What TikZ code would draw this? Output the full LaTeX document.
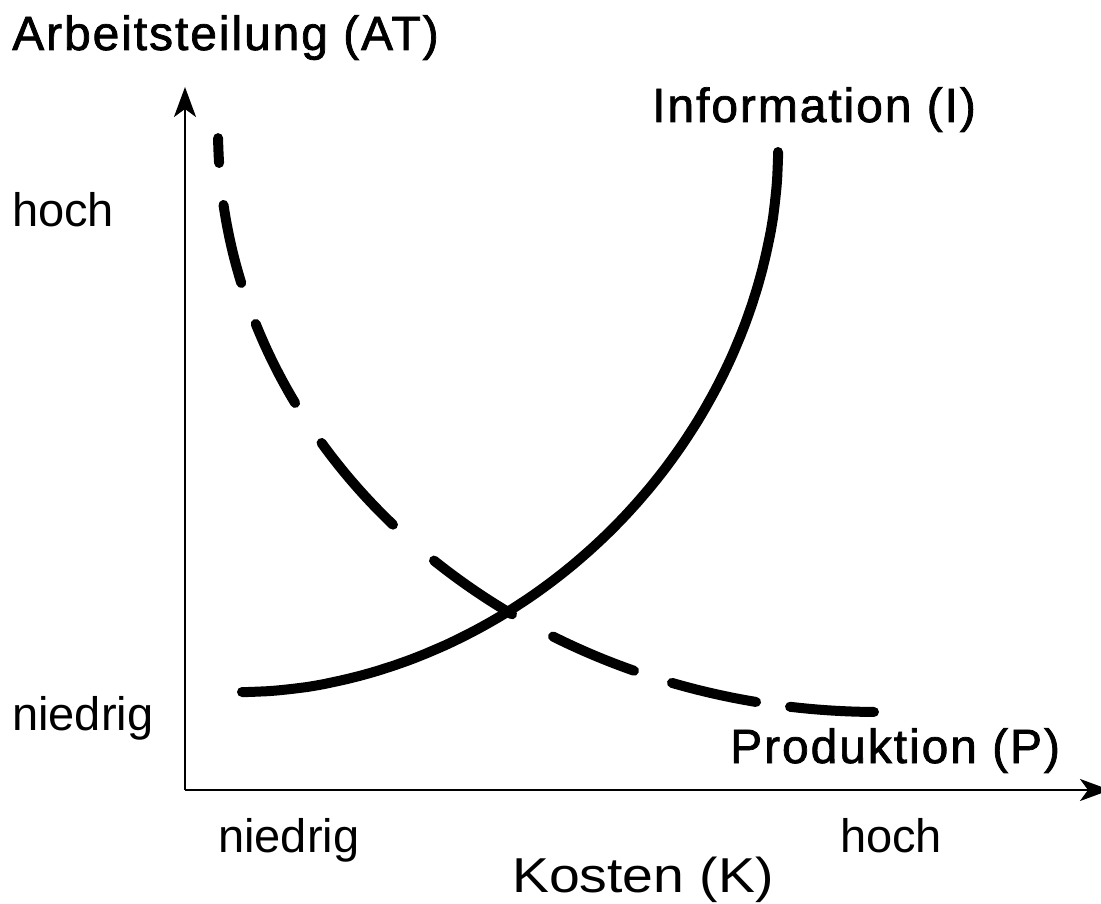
\documentclass[tikz,border=0pt]{standalone}
\usepackage{fontspec}
\setmainfont{Liberation Sans}
\newfontfamily\ttlfont[LetterSpace=4,FakeBold=1.5]{Liberation Sans}
\usetikzlibrary{arrows.meta,calc}
\begin{document}
\begin{tikzpicture}[x=1pt,y=-1pt,
  axis/.style={line width=2.6pt,-{Stealth[length=30pt,width=22pt,inset=8pt]}},
  curve/.style={line width=10pt,line cap=round,line join=round},
  lbl/.style={anchor=base west,inner sep=0pt,font=\fontsize{47}{50}\selectfont},
  ttl/.style={anchor=base west,inner sep=0pt,font=\ttlfont\fontsize{48}{52}\selectfont}]
\useasboundingbox (0,0) rectangle (1101,904);
\clip (0,0) rectangle (1101,904);
\coordinate (O) at (185,790);
\coordinate (Ytip) at (185,87);
\coordinate (Xtip) at (1110,790);
\draw[axis] (O) -- (Ytip);
\draw[axis] (O) -- (Xtip);
% Produktion (dashed): elliptic arc around pc, drawn dash by dash
\coordinate (pc) at (878,130);
\foreach \a/\b in {179.2/176.75, 172.6/164.76, 160.53/152.03, 147.47/137.3, 132.28/123.68, 119.5/111.7, 108.19/100.65, 97.66/90.35}{
  \draw[curve] ($(pc)+(\a:660 and 582)$) arc[start angle=\a, end angle=\b, x radius=660, y radius=582];
}
% Information (solid): superellipse quadrant
\draw[curve] plot[domain=0:90,samples=120,smooth,variable=\t]
  ({242+536*pow(abs(sin(\t)),1.0526)},{152+540*pow(abs(cos(\t)),1.0526)});
\node[ttl] (at) at (12,50) {Arbeitsteilung (AT)};
\node[ttl] (info) at (652,122) {Information (I)};
\node[ttl] (prod) at (730,763) {Produktion (P)};
\node[lbl] (yh) at (12,227) {hoch};
\node[lbl] (yn) at (12,730) {niedrig};
\node[lbl] (xn) at (218,852) {niedrig};
\node[lbl] (xh) at (840,852) {hoch};
\node[lbl,font=\fontsize{49}{52}\selectfont] (k) at (512,892) {\scalebox{1.13}[1]{Kosten (K)}};
\end{tikzpicture}
\end{document}
